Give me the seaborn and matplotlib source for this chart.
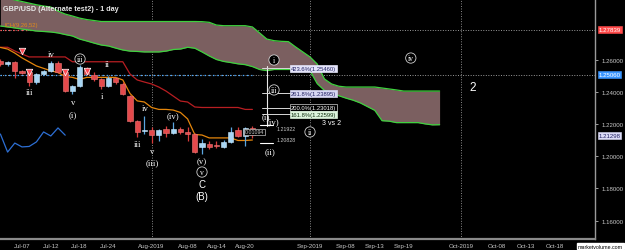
import numpy as np
import pandas as pd
import matplotlib
matplotlib.use("Agg")
import matplotlib.pyplot as plt
import matplotlib.transforms as mtransforms
import seaborn as sns

# ---------------- data ----------------
first_day = "2019-07-03"          # first (partly visible) candle
n_days = 90                        # business days on the time axis
opens = [1.2591, 1.2575, 1.2584, 1.2529, 1.2522, 1.2460, 1.2510, 1.2529, 1.2578, 1.2522,
         1.2404, 1.2435, 1.2541, 1.2504, 1.2479, 1.2435, 1.2485, 1.2448, 1.2373, 1.2218,
         1.2153, 1.2162, 1.2131, 1.2168, 1.2143, 1.2168, 1.2150, 1.2137, 1.2057, 1.2075,
         1.2066, 1.2057, 1.2088, 1.2162, 1.2125, 1.2175]
highs = [1.2603, 1.2591, 1.2591, 1.2535, 1.2529, 1.2516, 1.2535, 1.2591, 1.2591, 1.2529,
         1.2442, 1.2566, 1.2553, 1.2522, 1.2485, 1.2498, 1.2491, 1.2460, 1.2380, 1.2224,
         1.2249, 1.2181, 1.2168, 1.2187, 1.2212, 1.2181, 1.2181, 1.2143, 1.2106, 1.2094,
         1.2094, 1.2100, 1.2181, 1.2181, 1.2181, 1.2187]
lows = [1.2560, 1.2560, 1.2485, 1.2510, 1.2435, 1.2448, 1.2504, 1.2522, 1.2516, 1.2398,
        1.2386, 1.2429, 1.2504, 1.2466, 1.2417, 1.2429, 1.2448, 1.2380, 1.2212, 1.2119,
        1.2137, 1.2081, 1.2094, 1.2119, 1.2137, 1.2137, 1.2094, 1.2019, 1.2013, 1.2044,
        1.2050, 1.2050, 1.2081, 1.2119, 1.2063, 1.2112]
closes = [1.2572, 1.2584, 1.2529, 1.2516, 1.2460, 1.2510, 1.2529, 1.2578, 1.2522, 1.2404,
          1.2435, 1.2553, 1.2510, 1.2479, 1.2435, 1.2485, 1.2460, 1.2386, 1.2218, 1.2150,
          1.2162, 1.2131, 1.2162, 1.2143, 1.2168, 1.2150, 1.2137, 1.2025, 1.2081, 1.2057,
          1.2060, 1.2088, 1.2150, 1.2125, 1.2175, 1.2130]
tenkan = [1.2675, 1.2665, 1.2640, 1.2610, 1.2585, 1.2560, 1.2545, 1.2530, 1.2519, 1.2495,
          1.2489, 1.2476, 1.2489, 1.2489, 1.2489, 1.2489, 1.2489, 1.2473, 1.2389, 1.2343,
          1.2336, 1.2302, 1.2290, 1.2290, 1.2286, 1.2271, 1.2231, 1.2134, 1.2131, 1.2113,
          1.2113, 1.2113, 1.2113, 1.2097, 1.2097, 1.2100]
kijun = [1.2676, 1.2676, 1.2653, 1.2634, 1.2616, 1.2616, 1.2616, 1.2616, 1.2616, 1.2616,
         1.2586, 1.2586, 1.2586, 1.2586, 1.2586, 1.2586, 1.2586, 1.2586, 1.2510, 1.2473,
         1.2460, 1.2448, 1.2429, 1.2404, 1.2373, 1.2342, 1.2336, 1.2305, 1.2302, 1.2302,
         1.2302, 1.2302, 1.2302, 1.2302, 1.2290, 1.2290]
senkou_a = [1.2808, 1.2802, 1.2796, 1.2789, 1.2783, 1.2777, 1.2774, 1.2771, 1.2765, 1.2755,
            1.2746, 1.2727, 1.2715, 1.2702, 1.2690, 1.2684, 1.2671, 1.2659, 1.2652, 1.2650,
            1.2647, 1.2647, 1.2647, 1.2652, 1.2662, 1.2665, 1.2676, 1.2670, 1.2647, 1.2622,
            1.2600, 1.2588, 1.2581, 1.2573, 1.2568, 1.2556, 1.2538, 1.2531, 1.2538, 1.2538,
            1.2538, 1.2538, 1.2538, 1.2530, 1.2450, 1.2408, 1.2398, 1.2375, 1.2360, 1.2347,
            1.2330, 1.2307, 1.2284, 1.2220, 1.2217, 1.2208, 1.2208, 1.2208, 1.2208, 1.2200,
            1.2194, 1.2195]
senkou_b = [1.2990, 1.2980, 1.2970, 1.2960, 1.2950, 1.2940, 1.2932, 1.2926, 1.2901, 1.2882,
            1.2870, 1.2857, 1.2848, 1.2842, 1.2836, 1.2836, 1.2836, 1.2836, 1.2836, 1.2836,
            1.2836, 1.2836, 1.2836, 1.2836, 1.2836, 1.2836, 1.2836, 1.2836, 1.2835, 1.2831,
            1.2814, 1.2810, 1.2810, 1.2810, 1.2810, 1.2802, 1.2765, 1.2727, 1.2717, 1.2713,
            1.2711, 1.2678, 1.2647, 1.2616, 1.2572, 1.2479, 1.2448, 1.2434, 1.2429, 1.2429,
            1.2429, 1.2429, 1.2429, 1.2423, 1.2417, 1.2411, 1.2404, 1.2404, 1.2404, 1.2404,
            1.2404, 1.2404]
chikou_shift = 26
fractal_day = ["2019-07-08", "2019-07-09", "2019-07-16", "2019-07-19"]
fractal_price = [1.2653, 1.2522, 1.2522, 1.2529]
tick_dates = ["2019-07-08", "2019-07-12", "2019-07-18", "2019-07-24", "2019-08-01", "2019-08-08",
              "2019-08-14", "2019-08-20", "2019-09-02", "2019-09-09", "2019-09-13", "2019-09-19",
              "2019-10-01", "2019-10-08", "2019-10-14", "2019-10-18"]
tick_labels = ["Jul-07", "Jul-12", "Jul-18", "Jul-24", "Aug-2019", "Aug-08", "Aug-14", "Aug-20",
               "Sep-2019", "Sep-08", "Sep-13", "Sep-19", "Oct-2019", "Oct-08", "Oct-13", "Oct-18"]
month_dates = ["2019-08-01", "2019-09-02", "2019-10-01"]
y_ticks = [1.16, 1.18, 1.20, 1.22, 1.24, 1.26]
price_tags = [1.27839, 1.25060, 1.21298]
fib_labels = ["423.6%(1.25460)", "261.8%(1.23895)", "200.0%(1.23018)", "161.8%(1.22599)"]
fib_values = [1.25460, 1.23895, 1.23018, 1.22599]
fib_day = "2019-08-23"
measure_values = [1.21922, 1.20828]
measure_text = "0.01094"

# ---------------- derived positions ----------------
days = pd.bdate_range(first_day, periods=n_days)
pos = pd.Series(np.arange(n_days) - 3, index=days)      # 0 = Jul-08
nc = len(closes)
cpos = pos.values[:nc]
spos = pos.values[:len(senkou_a)]
df = pd.DataFrame({"pos": cpos, "open": opens, "high": highs, "low": lows, "close": closes,
                   "tenkan": tenkan, "kijun": kijun})
cloud = pd.DataFrame({"pos": spos, "a": senkou_a, "b": senkou_b})

# ---------------- style ----------------
sns.set_theme(style="dark", rc={"axes.facecolor": "black", "figure.facecolor": "black",
                                "axes.grid": False})
plt.rcParams["font.family"] = ["Liberation Sans", "DejaVu Sans"]

fig = plt.figure(figsize=(6.25, 2.51), dpi=100, facecolor="black")
ax = fig.add_axes([0, 11 / 251, 595 / 625, 240 / 251])
ax.set_facecolor("black")
x_left = pos["2019-07-08"] - 22 / 7.2
x_right = pos["2019-07-08"] + (595 - 22) / 7.2

# month separators
for d in month_dates:
    ax.axvline(pos[d], color="#8a8a8a", lw=0.7, ls=(0, (1, 1.6)), zorder=1)

# price lines
last = cpos[-1]
for p, col in zip(price_tags[:2], ["#ff5050", "#4aa8ff"]):
    ax.axhline(p, color="#9a9a9a", lw=0.7, ls=(0, (1, 1.6)), zorder=1)
    ax.plot([x_left, last], [p, p], color=col, lw=0.9, ls=(0, (1.2, 2.2)), zorder=1.5)

# cloud
ax.fill_between(cloud["pos"], cloud["a"], cloud["b"], color="#7b5f60", lw=0, zorder=2)
sns.lineplot(data=cloud, x="pos", y="a", color="#3ed23e", lw=0.9, ax=ax, zorder=3)
sns.lineplot(data=cloud, x="pos", y="b", color="#3ed23e", lw=0.9, ax=ax, zorder=3)

# ichimoku lines
sns.lineplot(data=df, x="pos", y="kijun", color="#b81e22", lw=0.9, ax=ax, zorder=4)
sns.lineplot(data=df, x="pos", y="tenkan", color="#e4860c", lw=0.9, ax=ax, zorder=4)
chk = pd.DataFrame({"pos": df["pos"].values[chikou_shift:] - chikou_shift,
                    "v": df["close"].values[chikou_shift:]})
sns.lineplot(data=chk, x="pos", y="v", color="#2d6fd4", lw=0.9, ax=ax, zorder=4)

# candles
up = df["close"] >= df["open"]
wick_c = np.where(up, "#5aa6e0", "#d83a3a")
face_c = np.where(up, "#a8d6f4", "#e44a4c")
edge_c = np.where(up, "#d0ecff", "#f07a7a")
ax.vlines(df["pos"], df["low"], df["high"], colors=wick_c, lw=0.9, zorder=5)
body_lo = np.minimum(df["open"], df["close"])
body_h = np.maximum((df["close"] - df["open"]).abs(), 0.0004)
ax.bar(df["pos"], body_h, bottom=body_lo, width=0.72, color=face_c, edgecolor=edge_c,
       linewidth=0.4, zorder=6)

# fractal markers
ax.scatter([pos[d] for d in fractal_day], fractal_price, marker="v", s=22, c="#ff4a55",
           edgecolors="white", linewidths=0.5, zorder=7)

# ---------------- annotations ----------------
serif = ["Liberation Serif", "DejaVu Serif"]
plain = [("iv", 4.0, 1.2634), ("ii", 11.9, 1.2572), ("iii", 1.1, 1.2398), ("v", 7.1, 1.2336),
         ("(i)", 7.1, 1.2261), ("i", 11.1, 1.2373), ("iv", 17.1, 1.2299), ("(iv)", 21.0, 1.2255),
         ("iii", 16.0, 1.2075), ("v", 18.05, 1.2032), ("(iii)", 18.05, 1.1963), ("(v)", 25.0, 1.1970),
         ("(i)", 33.8, 1.2248), ("(iv)", 34.9, 1.2214), ("(ii)", 34.4, 1.2032)]
for t, x, y in plain:
    ax.text(x, y, t, color="white", fontsize=6.3, family=serif, ha="center", va="center", zorder=9)
circled = [("iii", 8.06, 1.2603), ("v", 25.0, 1.1901), ("i", 35.0, 1.2597), ("iii", 35.0, 1.2411),
           ("ii", 40.0, 1.2150), ("iv", 54.0, 1.2609)]
for t, x, y in circled:
    ax.text(x, y, t, color="white", fontsize=5.5, family=serif, ha="center", va="center", zorder=9,
            bbox=dict(boxstyle="circle,pad=0.15", fc="black", ec="#d0d0d0", lw=0.6))
for t, x, y, s in [("C", 25.0, 1.1827, 7), ("(B)", 25.0, 1.1752, 7), ("2", 62.6, 1.2429, 8.5),
                   ("3 vs 2", 43.05, 1.2206, 5)]:
    ax.text(x, y, t, color="white", fontsize=s, ha="center", va="center", zorder=9)

# fibonacci tool
fx = pos[fib_day]
ax.plot([fx, fx], [1.2187, 1.2560], color="#e8e8e8", lw=0.8, zorder=8)
fib_style = [("#e4e4fa", "#e4e4fa", "#202060"), ("#d8d8f4", "#d8d8f4", "#202060"),
             ("black", "#d0d0d0", "white"), ("#dcf4dc", "#dcf4dc", "#103010")]
for lab, v, (fc, ec, tc) in zip(fib_labels, fib_values, fib_style):
    ax.plot([fx - 0.6, fx + 3.2], [v, v], color="#d8d8d8", lw=0.7, zorder=8)
    ax.text(fx + 3.3, v, lab, color=tc, fontsize=4.2, ha="left", va="center", zorder=9,
            bbox=dict(boxstyle="square,pad=0.15", fc=fc, ec=ec, lw=0.5))
for v, va, dy in zip(measure_values, ["top", "bottom"], [-0.0003, 0.0004]):
    ax.plot([fx - 0.9, fx + 0.9], [v, v], color="white", lw=0.8, zorder=8)
    ax.text(fx + 1.4, v + dy, f"{v:.5f}", color="#c8c8c8", fontsize=3.8, ha="left", va=va, zorder=9)
ax.text(fx - 1.7, 1.2150, measure_text, color="#c8c8c8", fontsize=3.8, ha="center", va="center",
        zorder=9, bbox=dict(boxstyle="square,pad=0.12", fc="black", ec="#c0c0c0", lw=0.5))

# titles
ax.text(0.005, 0.975, "GBP/USD (Alternate test2) - 1 day", transform=ax.transAxes, color="#e8e8e8",
        fontsize=5.2, fontweight="bold", ha="left", va="top", zorder=10)
ax.text(0.008, 0.905, "ICH(9,26,52)", transform=ax.transAxes, color="#e08a1c", fontsize=4.2,
        ha="left", va="top", zorder=10)

# ---------------- axes ----------------
ax.set_xlim(x_left, x_right)
ax.set_ylim(1.14851, 1.29758)
ax.yaxis.tick_right()
ax.set_yticks(y_ticks)
ax.set_yticklabels([f"{v:.5f}" for v in y_ticks])
ax.set_xticks([pos[d] for d in tick_dates])
ax.set_xticklabels(tick_labels)
ax.tick_params(axis="both", colors="#b8b8b8", labelcolor="#c8c8c8", length=2, width=0.6,
               labelsize=4.4, pad=1, direction="out")
ax.tick_params(axis="y", pad=3)
ax.set_xlabel("")
ax.set_ylabel("")
for side in ["top", "left"]:
    ax.spines[side].set_visible(False)
ax.spines["right"].set_color("#9a9a9a")
ax.spines["right"].set_linewidth(1.0)
ax.spines["bottom"].set_color("#8a8a8a")
ax.spines["bottom"].set_linewidth(1.6)

tr = mtransforms.blended_transform_factory(ax.transAxes, ax.transData)
for p, (fc, tc) in zip(price_tags, [("#ff4a4a", "white"), ("#3a96ff", "white"), ("#dcdcf8", "#202060")]):
    ax.text(1.006, p, f"{p:.5f}", transform=tr, color=tc, fontsize=4.4, ha="left", va="center",
            zorder=11, clip_on=False,
            bbox=dict(boxstyle="square,pad=0.15", fc=fc, ec=fc, lw=0.4))

fig.text(0.997, 0.005, "marketvolume.com", color="black", fontsize=3.8, ha="right", va="bottom",
         bbox=dict(boxstyle="square,pad=0.1", fc="white", ec="white"))

leg = ax.get_legend()
if leg:
    leg.remove()
fig.savefig("out.png", dpi=100, facecolor="black")
